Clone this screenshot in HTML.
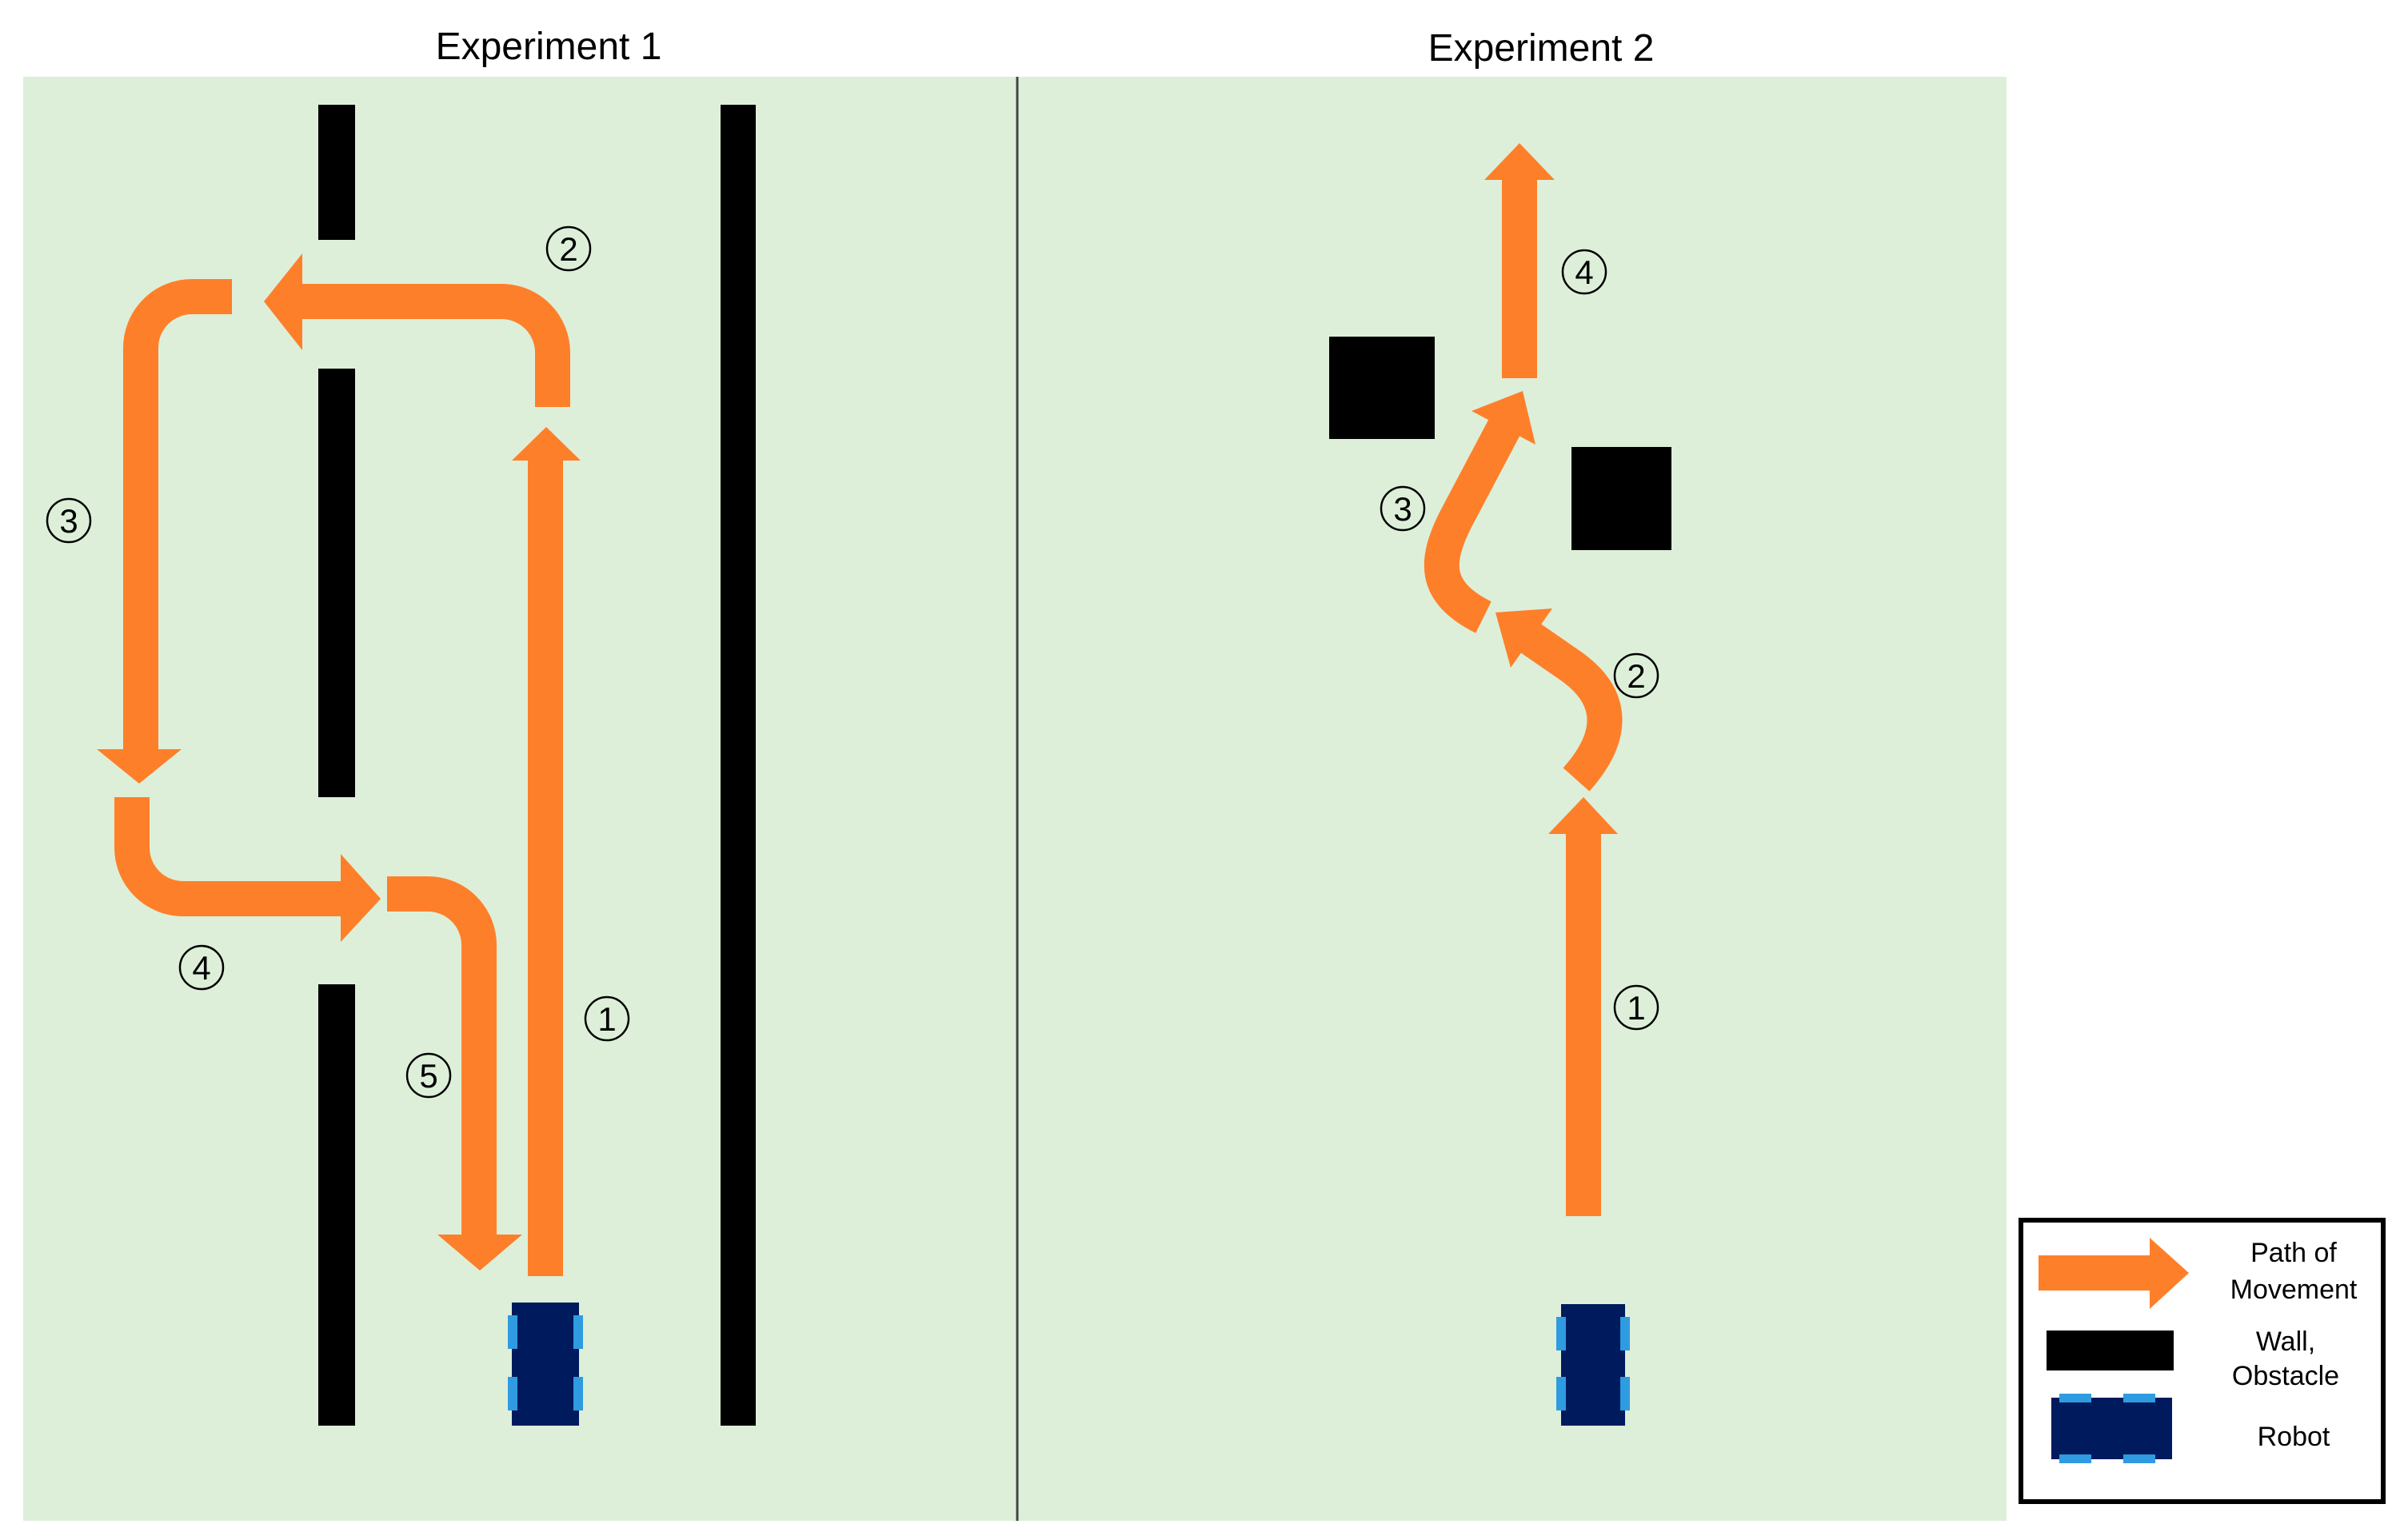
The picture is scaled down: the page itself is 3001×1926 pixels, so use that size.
<!DOCTYPE html>
<html><head><meta charset="utf-8"><style>
html,body{margin:0;padding:0;background:#fff;}
svg{display:block;}
</style></head><body>
<svg width="3001" height="1926" viewBox="0 0 3001 1926" xmlns="http://www.w3.org/2000/svg" font-family="'Liberation Sans', 'Noto Sans CJK KR', sans-serif">
<rect x="0" y="0" width="3001" height="1926" fill="#fff"/>
<rect x="29" y="96" width="2480" height="1806" fill="#ddefd9"/>
<line x1="1272" y1="96" x2="1272" y2="1902" stroke="#444" stroke-width="3"/>
<text x="686" y="74" font-size="48" text-anchor="middle" fill="#000">Experiment 1</text>
<text x="1927" y="76" font-size="48" text-anchor="middle" fill="#000">Experiment 2</text>

<rect x="398" y="131" width="46" height="169" fill="#000"/>
<rect x="398" y="461" width="46" height="536" fill="#000"/>
<rect x="398" y="1231" width="46" height="552" fill="#000"/>
<rect x="901" y="131" width="44" height="1652" fill="#000"/>

<rect x="1662" y="421" width="132" height="128" fill="#000"/>
<rect x="1965" y="559" width="125" height="129" fill="#000"/>

<rect x="2527" y="1526" width="453" height="352" fill="#fff" stroke="#000" stroke-width="6"/>

<g fill="none" stroke="#fe7f2a" stroke-width="44">
<path d="M682 1596 V570"/>
<path d="M691 509 V441 A64 64 0 0 0 627 377 H372"/>
<path d="M290 371 H240 A64 64 0 0 0 176 435 V940"/>
<path d="M165 997 V1060 A64 64 0 0 0 229 1124 H430"/>
<path d="M484 1118 H535 A64 64 0 0 1 599 1182 V1548"/>
<path d="M1980 1521 V1038"/>
<path d="M1971 975 C 2020 920, 2020 870, 1960 830 L1905 792"/>
<path d="M1855 772 C 1790 740, 1795 700, 1820 650 L1885 527"/>
<path d="M1900 473 V220"/>
<path d="M2549 1592 H2692"/>
</g>
<g fill="#fe7f2a">
<polygon points="640,576 726,576 683,534"/>
<polygon points="378,317 330,377 378,438"/>
<polygon points="121,937 227,937 174,980"/>
<polygon points="426,1068 476,1124 426,1178"/>
<polygon points="547,1544 653,1544 600,1589"/>
<polygon points="1936,1043 2023,1043 1980,997"/>
<polygon points="1941,761 1889,835 1870,766"/>
<polygon points="1920,556 1840,514 1904,489"/>
<polygon points="1856,225 1944,225 1900,179"/>
<polygon points="2688,1548 2737,1592 2688,1637"/>
</g>

<g>
<rect x="640" y="1629" width="84" height="154" fill="#001a5e"/>
<rect x="635" y="1645" width="12" height="42" fill="#2f9be0"/>
<rect x="717" y="1645" width="12" height="42" fill="#2f9be0"/>
<rect x="635" y="1722" width="12" height="42" fill="#2f9be0"/>
<rect x="717" y="1722" width="12" height="42" fill="#2f9be0"/>
</g>
<g>
<rect x="1952" y="1631" width="80" height="152" fill="#001a5e"/>
<rect x="1946" y="1647" width="12" height="42" fill="#2f9be0"/>
<rect x="2026" y="1647" width="12" height="42" fill="#2f9be0"/>
<rect x="1946" y="1722" width="12" height="42" fill="#2f9be0"/>
<rect x="2026" y="1722" width="12" height="42" fill="#2f9be0"/>
</g>

<g fill="none" stroke="#000" stroke-width="2.5">
<circle cx="759" cy="1274" r="27"/>
<circle cx="711" cy="311" r="27"/>
<circle cx="86" cy="651" r="27"/>
<circle cx="252" cy="1210" r="27"/>
<circle cx="536" cy="1345" r="27"/>
<circle cx="1981" cy="340" r="27"/>
<circle cx="1754" cy="636" r="27"/>
<circle cx="2046" cy="845" r="27"/>
<circle cx="2046" cy="1260" r="27"/>
</g>
<g font-size="42" text-anchor="middle" fill="#000">
<text x="759" y="1289">1</text>
<text x="711" y="326">2</text>
<text x="86" y="666">3</text>
<text x="252" y="1225">4</text>
<text x="536" y="1360">5</text>
<text x="1981" y="355">4</text>
<text x="1754" y="651">3</text>
<text x="2046" y="860">2</text>
<text x="2046" y="1275">1</text>
</g>

<rect x="2559" y="1664" width="159" height="50" fill="#000"/>
<rect x="2565" y="1748" width="151" height="77" fill="#001a5e"/>
<rect x="2575" y="1743" width="40" height="11" fill="#2f9be0"/>
<rect x="2655" y="1743" width="40" height="11" fill="#2f9be0"/>
<rect x="2575" y="1819" width="40" height="11" fill="#2f9be0"/>
<rect x="2655" y="1819" width="40" height="11" fill="#2f9be0"/>
<g font-size="34" text-anchor="middle" fill="#000">
<text x="2868" y="1578">Path of</text>
<text x="2868" y="1624">Movement</text>
<text x="2858" y="1689">Wall,</text>
<text x="2858" y="1732">Obstacle</text>
<text x="2868" y="1808">Robot</text>
</g>
</svg>
</body></html>
